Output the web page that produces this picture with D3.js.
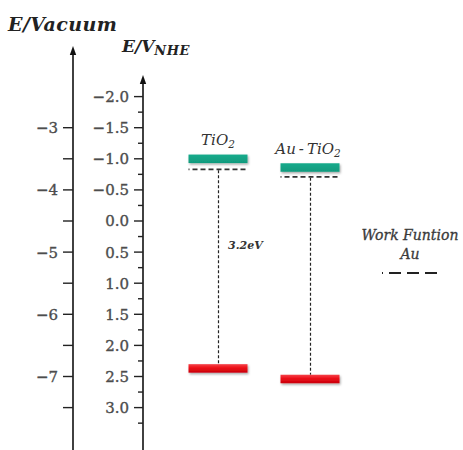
<!DOCTYPE html>
<html>
<head>
<meta charset="utf-8">
<script src="https://cdn.jsdelivr.net/npm/d3@7"></script>
<style>
  html, body { margin: 0; padding: 0; background: #fff; }
  svg { display: block; }
</style>
</head>
<body>
<div id="chart"></div>
<script>
// Band-edge diagram: conduction band, Fermi level and valence band (V vs NHE)
const materials = ["TiO", "Au\u2009-\u2009TiO"];   // subscript "2" appended when drawn
const cbEdge = [-1.0, -0.86];              // conduction band (green)
const fermiLevel = [-0.83, -0.71];         // dashed level under each CB
const vbEdge = [2.37, 2.54];               // valence band (red)
const gapLabels = ["3.2eV", ""];
const nheTicks = [-2.0, -1.5, -1.0, -0.5, 0.0, 0.5, 1.0, 1.5, 2.0, 2.5, 3.0];
const nheMinor = [-1.75, -1.25, -0.75, -0.25, 0.25, 0.75, 1.25, 1.75, 2.25, 2.75, 3.25];
const vacTicks = [-3, -4, -5, -6, -7];
const vacMinor = [-3.5, -4.5, -5.5, -6.5, -7.5];
const NHE_OFFSET = -4.5;                   // E(vacuum) = -4.5 - E(NHE)

const W = 463, H = 450;
const svg = d3.select("#chart").append("svg").attr("width", W).attr("height", H);

const defs = svg.append("defs");
const shadow = defs.append("filter").attr("id", "shadow")
  .attr("x", "-10%").attr("y", "-50%").attr("width", "130%").attr("height", "250%");
shadow.append("feDropShadow").attr("dx", 1).attr("dy", 1.5)
  .attr("stdDeviation", 1).attr("flood-color", "#000").attr("flood-opacity", 0.35);
const redGrad = defs.append("linearGradient").attr("id", "redGrad")
  .attr("x1", 0).attr("y1", 0).attr("x2", 0).attr("y2", 1);
redGrad.append("stop").attr("offset", "0%").attr("stop-color", "#f5424a");
redGrad.append("stop").attr("offset", "45%").attr("stop-color", "#ec1018");
redGrad.append("stop").attr("offset", "100%").attr("stop-color", "#c8000a");
const greenGrad = defs.append("linearGradient").attr("id", "greenGrad")
  .attr("x1", 0).attr("y1", 0).attr("x2", 0).attr("y2", 1);
greenGrad.append("stop").attr("offset", "0%").attr("stop-color", "#1aab8c");
greenGrad.append("stop").attr("offset", "100%").attr("stop-color", "#109a7d");

const yNHE = d3.scaleLinear().domain([-2.0, 3.0]).range([96.6, 407.6]);
const yVac = d3.scaleLinear()
  .domain([NHE_OFFSET - (-2.0), NHE_OFFSET - 3.0])
  .range(yNHE.range());
const x = d3.scalePoint().domain(materials).range([218, 310]);
const barW = 59, barH = 8.5;

const serif = "'DejaVu Serif', serif";

function drawAxis(xPos, top, scale, major, minor, majorLen, minorLen, fmt) {
  const g = svg.append("g").attr("transform", `translate(${xPos},0)`);
  g.append("line").attr("x1", 0).attr("x2", 0).attr("y1", H).attr("y2", top + 6)
    .attr("stroke", "#111").attr("stroke-width", 1.6);
  // arrowhead
  g.append("path").attr("d", `M0,${top} L3.2,${top + 9} L-3.2,${top + 9} Z`)
    .attr("fill", "#111");
  g.selectAll(".minor").data(minor).join("line")
    .attr("x1", -minorLen).attr("x2", 0)
    .attr("y1", d => scale(d)).attr("y2", d => scale(d))
    .attr("stroke", "#222").attr("stroke-width", 1.4);
  g.selectAll(".major").data(major).join("line")
    .attr("x1", -majorLen).attr("x2", 0)
    .attr("y1", d => scale(d)).attr("y2", d => scale(d))
    .attr("stroke", "#222").attr("stroke-width", 1.4);
  g.selectAll("text").data(major).join("text")
    .attr("x", -majorLen - 5).attr("y", d => scale(d))
    .attr("dy", "0.36em").attr("text-anchor", "end")
    .attr("font-family", serif).attr("font-size", 15).attr("fill", "#4d4d4d")
    .attr("stroke", "#4d4d4d").attr("stroke-width", 0.35)
    .text(fmt);
}

const minus = s => s.replace("-", "\u2212");
drawAxis(73, 46, yVac, vacTicks, vacMinor, 10, 10, d => minus(d3.format("d")(d)));
drawAxis(143, 75, yNHE, nheTicks, nheMinor, 9, 5, d => minus(d3.format(".1f")(d)));

// Axis titles
svg.append("text").attr("x", 8).attr("y", 31)
  .attr("font-family", serif).attr("font-weight", "bold").attr("font-style", "italic")
  .attr("font-size", 19).attr("letter-spacing", 0.4).attr("fill", "#222").text("E/Vacuum");
const t2 = svg.append("text").attr("x", 122).attr("y", 52)
  .attr("font-family", serif).attr("font-weight", "bold").attr("font-style", "italic")
  .attr("font-size", 17).attr("fill", "#222");
t2.append("tspan").text("E/V");
t2.append("tspan").attr("font-size", 13).attr("dy", 3).attr("letter-spacing", 0.5).text("NHE");

// Bands
const bands = svg.append("g");
materials.forEach((m, i) => {
  const cx = x(m);
  // gap line from Fermi level to valence band
  bands.append("line").attr("x1", cx + 0.5).attr("x2", cx + 0.5)
    .attr("y1", yNHE(fermiLevel[i]) + 1).attr("y2", yNHE(vbEdge[i]) - barH / 2)
    .attr("stroke", "#222").attr("stroke-width", 1.2).attr("stroke-dasharray", "3,2");
  // dashed Fermi level
  bands.append("line").attr("x1", cx - barW / 2).attr("x2", cx + barW / 2)
    .attr("y1", yNHE(fermiLevel[i])).attr("y2", yNHE(fermiLevel[i]))
    .attr("stroke", "#333").attr("stroke-width", 1.6).attr("stroke-dasharray", "1,3,5,3,5,3,5,3,5,3,5,3,5,3,5,3");
  // conduction band
  bands.append("rect").attr("x", cx - barW / 2).attr("y", yNHE(cbEdge[i]) - barH / 2)
    .attr("width", barW).attr("height", barH).attr("fill", "url(#greenGrad)")
    .attr("filter", "url(#shadow)");
  // valence band
  bands.append("rect").attr("x", cx - barW / 2).attr("y", yNHE(vbEdge[i]) - barH / 2)
    .attr("width", barW).attr("height", barH).attr("fill", "url(#redGrad)")
    .attr("filter", "url(#shadow)");
  // material label
  const lbl = bands.append("text").attr("x", cx - 2 * i).attr("y", yNHE(cbEdge[i]) - 14)
    .attr("text-anchor", "middle")
    .attr("font-family", serif).attr("font-style", "italic")
    .attr("font-size", 15).attr("fill", "#333");
  lbl.append("tspan").text(m);
  lbl.append("tspan").attr("font-size", 10.5).attr("dy", 3).text("2");
  if (gapLabels[i]) {
    bands.append("text").attr("x", cx + 10)
      .attr("y", (yNHE(fermiLevel[i]) + yNHE(vbEdge[i])) / 2 - 20)
      .attr("font-family", serif).attr("font-weight", "bold").attr("font-style", "italic")
      .attr("font-size", 11).attr("fill", "#333").text(gapLabels[i]);
  }
});

// Legend: work function of Au
const leg = svg.append("g").attr("transform", "translate(410,0)");
leg.selectAll("text").data(["Work Funtion", "Au"]).join("text")
  .attr("x", 0).attr("y", (d, i) => 240 + i * 19).attr("text-anchor", "middle")
  .attr("font-family", serif).attr("font-style", "italic")
  .attr("font-size", 14).attr("fill", "#3a3a3a")
  .attr("stroke", "#3a3a3a").attr("stroke-width", 0.3)
  .text(d => d);
leg.append("line").attr("x1", -28).attr("x2", 28).attr("y1", 273).attr("y2", 273)
  .attr("stroke", "#222").attr("stroke-width", 2)
  .attr("stroke-dasharray", "1,6,12,6,12,6,12");
</script>
</body>
</html>
